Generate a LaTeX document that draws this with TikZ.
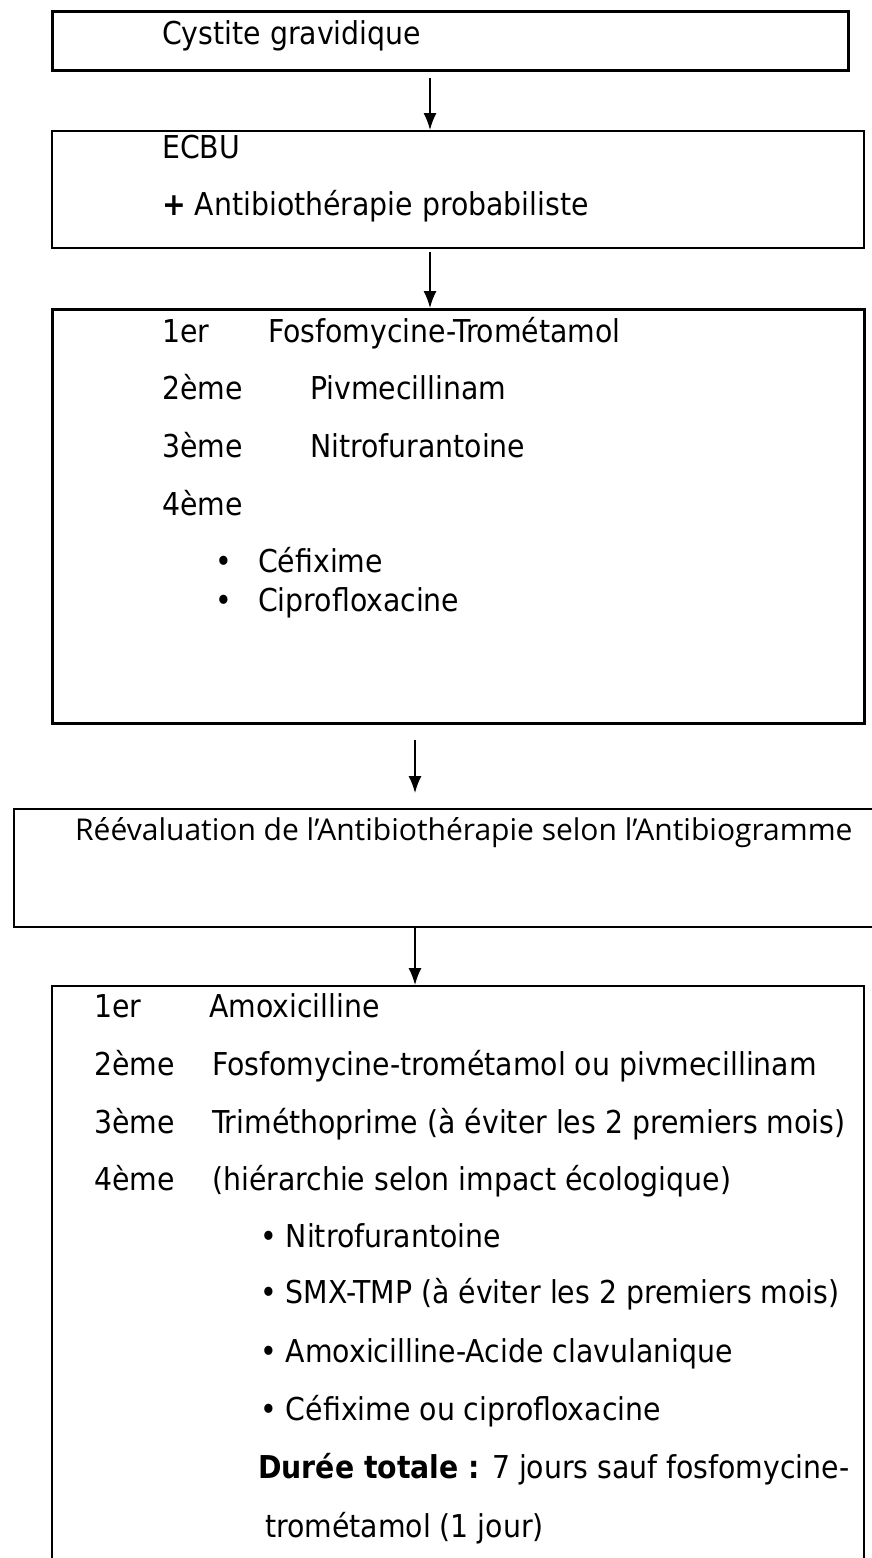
\documentclass[tikz,border=0pt]{standalone}
\usepackage{fontspec}
\setmainfont{DejaVu Sans Condensed}
\newfontfamily\reevalfont{Open Sans}
\usetikzlibrary{arrows.meta}

\begin{document}
\begin{tikzpicture}[x=1pt,y=-1pt,>={Latex[length=17pt,width=13pt]},
  boite/.style={draw,anchor=north west,inner sep=0pt},
  texte/.style={anchor=base west,inner sep=0pt,font=\fontsize{31.5}{36}\selectfont},
  fleche/.style={->,line width=1.6pt}]
\useasboundingbox (0,0) rectangle (871,1558);
% les cadres
\node[boite,line width=2.6pt,minimum width=796pt,minimum height=59pt] (cadre1) at (51,10) {};
\node[boite,line width=2pt,minimum width=812pt,minimum height=117pt] (cadre2) at (51,130) {};
\node[boite,line width=3pt,minimum width=812pt,minimum height=414pt] (cadre3) at (51,308) {};
\node[boite,line width=1.8pt,minimum width=880pt,minimum height=118pt] (cadre4) at (13,808) {};
\node[boite,line width=2pt,minimum width=812pt,minimum height=600pt] (cadre5) at (51,985) {};
% les fleches
\draw[fleche] ([xshift=379pt,yshift=-6pt]cadre1.south west) -- ([xshift=379pt]cadre2.north west);
\draw[fleche] ([xshift=379pt,yshift=-3pt]cadre2.south west) -- ([xshift=379pt]cadre3.north west);
\draw[fleche] ([xshift=364pt,yshift=-15pt]cadre3.south west) -- ([xshift=402pt,yshift=15pt]cadre4.north west);
\draw[fleche] ([xshift=402pt]cadre4.south west) -- ([xshift=364pt]cadre5.north west);
% cadre 1 et 2
\node[texte] (cystite) at (162,44) {Cystite gravidique};
\node[texte] (ecbu) at (162,158) {ECBU};
\node[texte] (probab) at (162,215) {\textbf{+} Antibiothérapie probabiliste};
% cadre 3
\node[texte] (r1) at (162,342) {1er};
\node[texte] (m1) at (268,342) {Fosfomycine-Trométamol};
\node[texte] (r2) at (162,399) {2ème};
\node[texte] (m2) at (310,399) {Pivmecillinam};
\node[texte] (r3) at (162,457) {3ème};
\node[texte] (m3) at (310,457) {Nitrofurantoine};
\node[texte] (r4) at (162,515) {4ème};
\node[texte] (p1) at (215,572) {•};
\node[texte] (m4) at (258,572) {Céfixime};
\node[texte] (p2) at (215,611) {•};
\node[texte] (m5) at (258,611) {Ciprofloxacine};
% cadre 4
\node[texte,font=\reevalfont\fontsize{30}{34}\selectfont] (reeval) at (75,840)
  {Réévaluation de l’Antibiothérapie selon l’Antibiogramme};
% cadre 5
\node[texte] (s1) at (94,1017) {1er};
\node[texte] (n1) at (209,1017) {Amoxicilline};
\node[texte] (s2) at (94,1075) {2ème};
\node[texte] (n2) at (212,1075) {Fosfomycine-trométamol ou pivmecillinam};
\node[texte] (s3) at (94,1133) {3ème};
\node[texte] (n3) at (212,1133) {Triméthoprime (à éviter les 2 premiers mois)};
\node[texte] (s4) at (94,1190) {4ème};
\node[texte] (n4) at (212,1190) {(hiérarchie selon impact écologique)};
\node[texte] (q1) at (260,1247) {• Nitrofurantoine};
\node[texte] (q2) at (260,1303) {• SMX-TMP (à éviter les 2 premiers mois)};
\node[texte] (q3) at (260,1362) {• Amoxicilline-Acide clavulanique};
\node[texte] (q4) at (260,1420) {• Céfixime ou ciprofloxacine};
\node[texte] (duree) at (258,1478) {\textbf{Durée totale :} 7 jours sauf fosfomycine-};
\node[texte] (duree2) at (265,1537) {trométamol (1 jour)};
\end{tikzpicture}
\end{document}
